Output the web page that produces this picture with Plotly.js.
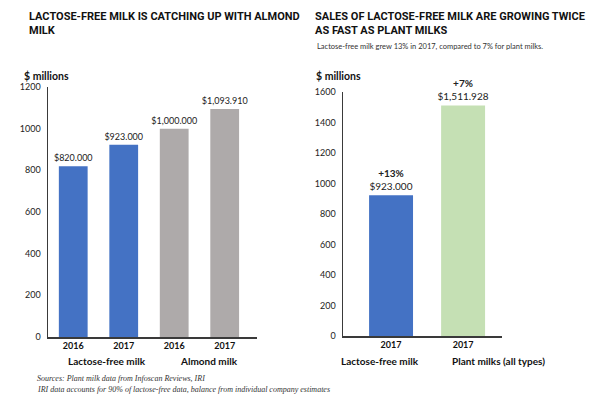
<!DOCTYPE html>
<html>
<head>
<meta charset="utf-8">
<script src="https://cdn.plot.ly/plotly-3.0.1.min.js"></script>
<style>
  html, body { margin: 0; padding: 0; background: #fff; }
  #chart { width: 600px; height: 400px; }
</style>
</head>
<body>
<div id="chart"></div>
<script>
// chart data
const leftGroups = ['Lactose-free milk', 'Lactose-free milk', 'Almond milk', 'Almond milk'];
const leftYears = ['2016', '2017', '2016', '2017'];
const leftSales = [820, 923, 1000, 1093.91];

const rightGroups = ['Lactose-free milk', 'Plant milks (all types)'];
const rightYears = ['2017', '2017'];
const rightSales = [923, 1511.928];
const rightGrowth = ['+13%', '+7%'];

const groupColors = {
  'Lactose-free milk': '#4472C4',
  'Almond milk': '#AEAAAA',
  'Plant milks (all types)': '#C5E0B4'
};

const W = 600, H = 400;
const px = v => v / W;
const py = v => 1 - v / H;

const bodyFont = 'Lato, "Noto Sans", sans-serif';
const titleFont = '"Liberation Sans Narrow", "Roboto", sans-serif';
const axisColor = '#3a3a3a';

// unique category keys so repeated years stay separate bars
let leftCats = leftGroups.map((g, i) => g + ' ' + leftYears[i]);
let rightCats = rightGroups.map((g, i) => g + ' ' + rightYears[i]);

let leftTrace = {
  type: 'bar',
  x: leftCats,
  y: leftSales,
  width: 0.57,
  marker: {color: leftGroups.map(g => groupColors[g])},
  texttemplate: '$%{y:,.3f}',
  textposition: 'outside',
  constraintext: 'none',
  cliponaxis: false,
  textfont: {family: bodyFont, size: 9, color: '#222'},
  hoverinfo: 'none',
  xaxis: 'x',
  yaxis: 'y'
};

let rightTrace = {
  type: 'bar',
  x: rightCats,
  y: rightSales,
  customdata: rightGrowth,
  width: 0.61,
  marker: {color: rightGroups.map(g => groupColors[g])},
  texttemplate: '<b>%{customdata}</b><br>$%{y:,.3f}',
  textposition: 'outside',
  constraintext: 'none',
  cliponaxis: false,
  textfont: {family: bodyFont, size: 10, color: '#222'},
  hoverinfo: 'none',
  xaxis: 'x2',
  yaxis: 'y2'
};

function xAxis(cats, years, range, domain, anchor) {
  return {
    type: 'category',
    domain: domain,
    anchor: anchor,
    range: range,
    tickvals: cats,
    ticktext: years,
    tickfont: {family: bodyFont, size: 9, color: '#111', weight: 'bold'},
    ticks: '',
    showgrid: false,
    zeroline: false,
    showline: true,
    linecolor: axisColor,
    linewidth: 1.5,
    fixedrange: true
  };
}

function yAxis(range, domain, anchor) {
  return {
    domain: domain,
    range: range,
    dtick: 200,
    anchor: anchor,
    tickfont: {family: bodyFont, size: 9, color: '#222'},
    ticks: '',
    ticklabelstandoff: 4,
    showgrid: false,
    zeroline: false,
    showline: true,
    linecolor: axisColor,
    linewidth: 1.5,
    fixedrange: true
  };
}

function note(text, x, y, opts) {
  return Object.assign({
    text: text, xref: 'paper', yref: 'paper', x: px(x), y: py(y),
    xanchor: 'left', yanchor: 'middle', showarrow: false, align: 'left',
    font: {family: bodyFont, size: 10.5, color: '#111', weight: 'bold'}
  }, opts || {});
}

let titleStyle = {family: titleFont, size: 11, color: '#111', weight: 'bold'};
let footStyle = {family: '"Liberation Serif", serif', size: 8, color: '#333', style: 'italic'};
let groupStyle = {family: bodyFont, size: 10, color: '#111', weight: 'bold'};

let annotations = [
  note('LACTOSE-FREE MILK IS CATCHING UP WITH ALMOND<br>MILK', 27, 8, {yanchor: 'top', font: titleStyle}),
  note('SALES OF LACTOSE-FREE MILK ARE GROWING TWICE<br>AS FAST AS PLANT MILKS', 313, 8, {yanchor: 'top', font: titleStyle}),
  note('Lactose-free milk grew 13% in 2017, compared to 7% for plant milks.', 315, 47,
    {font: {family: bodyFont, size: 7.5, color: '#333'}}),
  note('$ millions', 22, 76),
  note('$ millions', 314, 76),
  note('Sources: Plant milk data from Infoscan Reviews, IRI', 35, 378, {font: footStyle}),
  note('IRI data accounts for 90% of lactose-free data, balance from individual company estimates', 35, 389, {font: footStyle})
];

// group names under the year labels
let leftGroupX = [66, 178];
let rightGroupX = [339, 450];
[...new Set(leftGroups)].forEach((g, i) => annotations.push(note(g, leftGroupX[i], 361, {font: groupStyle})));
[...new Set(rightGroups)].forEach((g, i) => annotations.push(note(g, rightGroupX[i], 361, {font: groupStyle})));

let layout = {
  width: W,
  height: H,
  margin: {l: 0, r: 0, t: 0, b: 0},
  paper_bgcolor: '#fff',
  plot_bgcolor: '#fff',
  showlegend: false,
  xaxis: xAxis(leftCats, leftYears, [-0.5, 3.64], [px(48), px(257)], 'y'),
  yaxis: yAxis([0, 1200], [py(337), py(87)], 'x'),
  xaxis2: xAxis(rightCats, rightYears, [-0.667, 1.54], [px(343), px(502)], 'y2'),
  yaxis2: yAxis([0, 1600], [py(336), py(92)], 'x2'),
  annotations: annotations
};

Plotly.newPlot('chart', [leftTrace, rightTrace], layout, {staticPlot: true});
</script>
</body>
</html>
